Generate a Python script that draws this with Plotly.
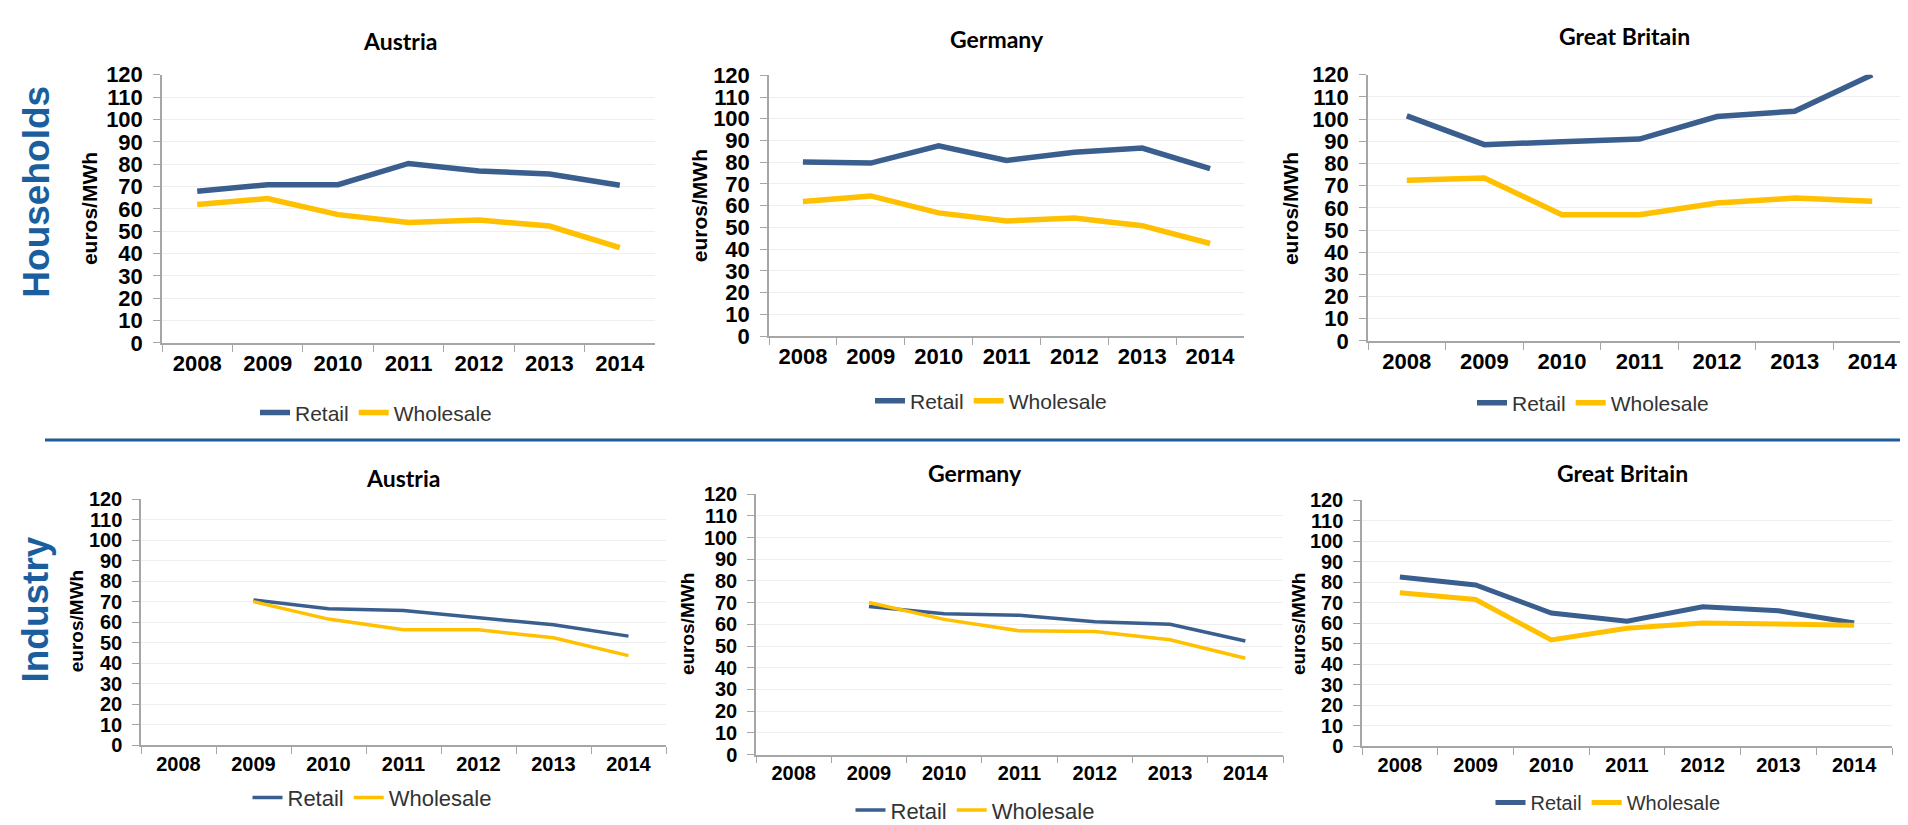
import plotly.graph_objects as go

W, H = 1908, 825

years = ["2008", "2009", "2010", "2011", "2012", "2013", "2014"]
y_ticks = list(range(0, 121, 10))

hh_at_retail = [67.9, 70.8, 70.8, 80.3, 76.9, 75.6, 70.6]
hh_at_wholesale = [61.9, 64.6, 57.4, 53.9, 55.0, 52.3, 42.6]
hh_de_retail = [80.1, 79.6, 87.5, 80.8, 84.6, 86.5, 77.1]
hh_de_wholesale = [61.9, 64.5, 56.7, 53.0, 54.3, 50.8, 42.6]
hh_gb_retail = [101.5, 88.5, 89.8, 91.0, 101.2, 103.6, 120.0]
hh_gb_wholesale = [72.5, 73.5, 56.9, 56.9, 62.2, 64.4, 63.0]
ind_at_retail = [None, 70.8, 66.5, 65.7, 62.1, 58.7, 53.2]
ind_at_wholesale = [None, 70.0, 61.5, 56.3, 56.3, 52.4, 43.7]
ind_de_retail = [None, 68.2, 64.9, 64.2, 61.2, 60.0, 52.3]
ind_de_wholesale = [None, 70.1, 62.3, 57.0, 56.7, 52.9, 44.4]
ind_gb_retail = [82.5, 78.6, 64.9, 60.9, 68.0, 66.0, 60.1]
ind_gb_wholesale = [74.8, 71.5, 51.8, 57.5, 60.1, 59.8, 59.0]

countries = ["Austria", "Germany", "Great Britain"]
row_labels = ["Households", "Industry"]
series_names = ["Retail", "Wholesale"]

RETAIL_C = "#3A5E8E"
WHOLE_C = "#FFC000"
LABEL_BLUE = "#1B5E9E"

# panel layout (pixels): left, right, top(120), bottom(0)
panels = [
    dict(l=154, r=647, t=56.5, b=333, data=(hh_at_retail, hh_at_wholesale), lw=5.5, fs=22,
         title=(392, 22), ylab=(81, 195), leg=(368, 405), tfs=23, lfs=21),
    dict(l=761, r=1236, t=57, b=326, data=(hh_de_retail, hh_de_wholesale), lw=5.5, fs=22,
         title=(989, 20), ylab=(691, 192), leg=(983, 393), tfs=23, lfs=21),
    dict(l=1360, r=1903, t=56.5, b=331, data=(hh_gb_retail, hh_gb_wholesale), lw=5.5, fs=22,
         title=(1616, 17), ylab=(1282, 195), leg=(1585, 395), tfs=23, lfs=21),
    dict(l=133, r=658, t=494, b=748, data=(ind_at_retail, ind_at_wholesale), lw=3.5, fs=20,
         title=(395, 472), ylab=(68, 620), leg=(364, 802), tfs=23, lfs=22),
    dict(l=748, r=1275, t=489, b=757.5, data=(ind_de_retail, ind_de_wholesale), lw=3.5, fs=20,
         title=(967, 467), ylab=(679, 623), leg=(967, 815), tfs=23, lfs=22),
    dict(l=1354, r=1884, t=495, b=749, data=(ind_gb_retail, ind_gb_wholesale), lw=5, fs=20,
         title=(1614, 467), ylab=(1290, 623), leg=(1600, 807), tfs=23, lfs=20),
]

fig = go.Figure()
layout = dict(
    width=W, height=H, margin=dict(l=0, r=0, t=0, b=0),
    paper_bgcolor="white", plot_bgcolor="white", showlegend=True,
)
annotations = []

for i, p in enumerate(panels):
    k = "" if i == 0 else str(i + 1)
    leg_name = "legend" + k
    for name, vals, col in zip(series_names, p["data"], [RETAIL_C, WHOLE_C]):
        fig.add_trace(go.Scatter(
            x=years, y=vals, name=name, mode="lines",
            line=dict(color=col, width=p["lw"]),
            xaxis="x" + k, yaxis="y" + k, legend=leg_name,
            hoverinfo="x+y+name",
        ))
    layout["xaxis" + k] = dict(
        domain=[p["l"] / W, p["r"] / W], anchor="y" + k,
        type="category", categoryorder="array", categoryarray=years,
        range=[-0.5, 6.5], tickson="boundaries", ticks="outside", ticklen=7,
        tickcolor="#a6a6a6", showline=True, linecolor="#a6a6a6", linewidth=1.5,
        showgrid=False, zeroline=False, fixedrange=True,
        tickfont=dict(family="Liberation Sans, Arial", size=p["fs"], color="black", weight="bold"),
    )
    layout["yaxis" + k] = dict(
        domain=[1 - p["b"] / H, 1 - p["t"] / H], anchor="x" + k,
        range=[0, 120], tickvals=y_ticks, ticks="outside", ticklen=7,
        tickcolor="#a6a6a6", showline=True, linecolor="#a6a6a6", linewidth=1.5,
        showgrid=True, gridcolor="#efefef", gridwidth=1, zeroline=False,
        ticklabelstandoff=6, fixedrange=True,
        tickfont=dict(family="Liberation Sans, Arial", size=p["fs"], color="black", weight="bold"),
    )
    layout[leg_name] = dict(
        orientation="h", x=p["leg"][0] / W, y=1 - p["leg"][1] / H,
        xanchor="center", yanchor="middle", bgcolor="rgba(0,0,0,0)",
        font=dict(family="Liberation Sans, Arial", size=p["lfs"], color="#333333"),
        itemwidth=30, tracegroupgap=0,
    )
    annotations.append(dict(
        text=countries[i % 3], x=p["title"][0] / W, y=1 - p["title"][1] / H,
        xref="paper", yref="paper", xanchor="center", yanchor="middle", showarrow=False,
        font=dict(family="Lato", size=p["tfs"], color="black", weight="bold"),
    ))
    annotations.append(dict(
        text="euros/MWh", x=p["ylab"][0] / W, y=1 - p["ylab"][1] / H,
        xref="paper", yref="paper", xanchor="center", yanchor="middle", showarrow=False,
        textangle=-90,
        font=dict(family="Liberation Sans, Arial", size=p["fs"] - 1, color="black", weight="bold"),
    ))

for lab, (x, y) in zip(row_labels, [(29, 177), (28, 608)]):
    annotations.append(dict(
        text=lab, x=x / W, y=1 - y / H, xref="paper", yref="paper",
        xanchor="center", yanchor="middle", showarrow=False, textangle=-90,
        font=dict(family="Liberation Sans, Arial", size=37, color=LABEL_BLUE, weight="bold"),
    ))

layout["annotations"] = annotations
layout["shapes"] = [dict(
    type="line", xref="paper", yref="paper",
    x0=37 / W, x1=1893 / W, y0=1 - 433 / H, y1=1 - 433 / H,
    line=dict(color="#1F5C99", width=3),
)]

fig.update_layout(**layout)
fig.write_html("out.html")
